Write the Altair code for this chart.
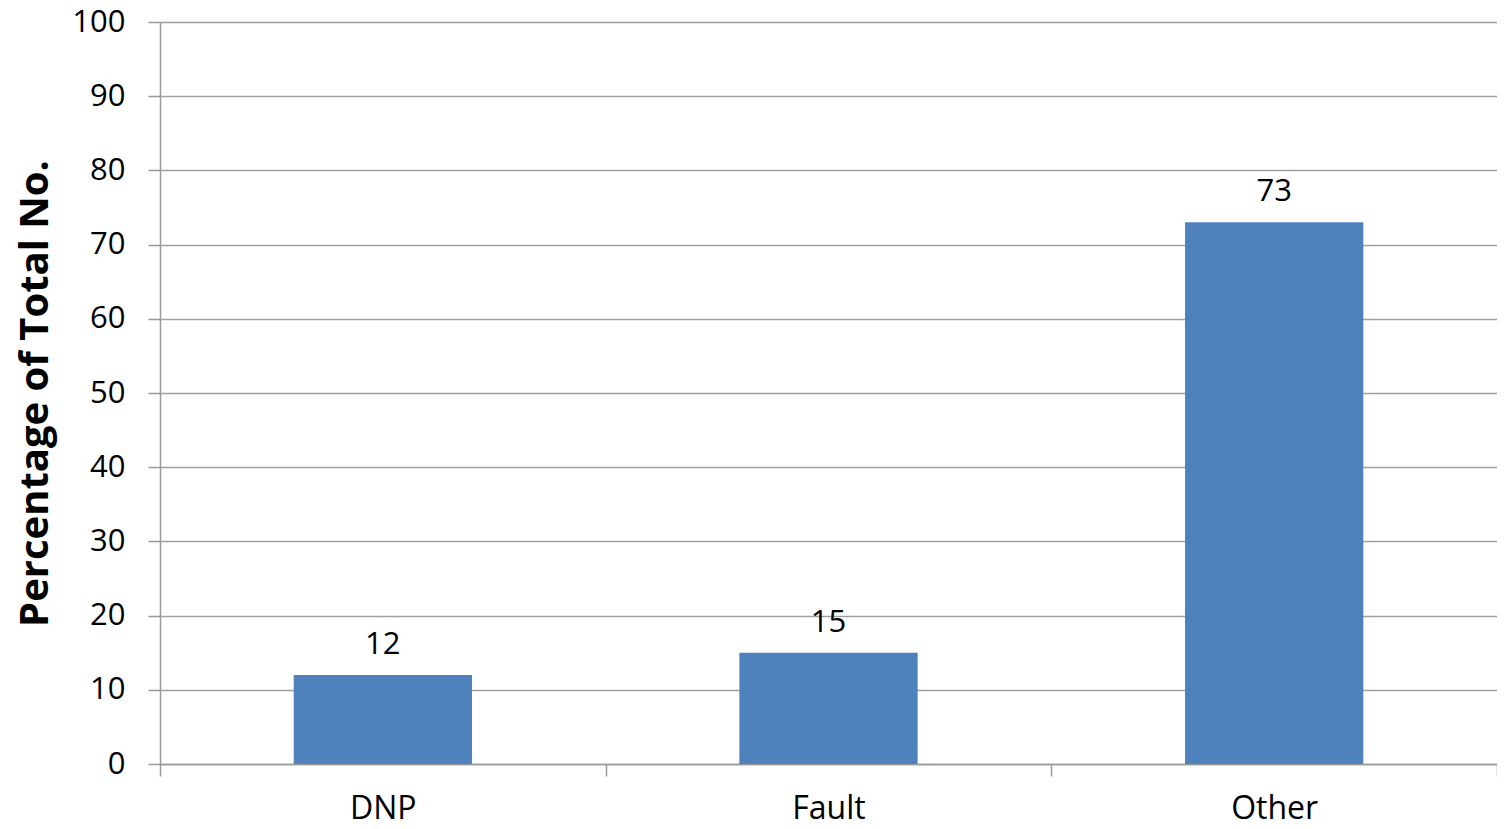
import altair as alt
import pandas as pd

categories = ["DNP", "Fault", "Other"]
values = [12, 15, 73]
labels = ["12", "15", "73"]

df = pd.DataFrame({"cat": categories, "val": values, "lab": labels})

FONT = "Open Sans"

x = alt.X("cat:N", sort=categories, title=None,
          scale=alt.Scale(paddingInner=0, paddingOuter=0),
          axis=alt.Axis(labelAngle=0, labelFontSize=32, labelFont=FONT, labelColor="#000",
                        tickBand="extent", tickSize=12, tickColor="#999", tickWidth=1.5,
                        domainColor="#999", domainWidth=1.5, labelPadding=17, grid=False))
y = alt.Y("val:Q", title="Percentage of Total No.",
          scale=alt.Scale(domain=[0, 100], nice=False),
          axis=alt.Axis(values=list(range(0, 101, 10)), labelFontSize=31, labelFont=FONT,
                        labelColor="#000", tickSize=12, tickColor="#999", tickWidth=1.5,
                        domainColor="#999", domainWidth=1.5, labelPadding=23,
                        gridColor="#A0A0A0", gridWidth=1.5,
                        titleFontSize=40, titleFont=FONT, titleFontWeight="bold",
                        titleColor="#000", titlePadding=16))

bars = alt.Chart(df).mark_bar(color="#4F81BD", width=alt.RelativeBandSize(0.4)).encode(x=x, y=y)
text = alt.Chart(df).mark_text(fontSize=31, font=FONT, color="#000", baseline="alphabetic", dy=-21).encode(
    x=alt.X("cat:N", sort=categories), y="val:Q", text="lab:N")

chart = (bars + text).properties(
    width=1337, height=742,
    autosize=alt.AutoSizeParams(type="none"),
    padding={"left": 152, "top": 14, "right": 0, "bottom": 57},
).configure_view(stroke=None)

chart.save("out.html", embed_options={"renderer": "svg", "actions": False})
